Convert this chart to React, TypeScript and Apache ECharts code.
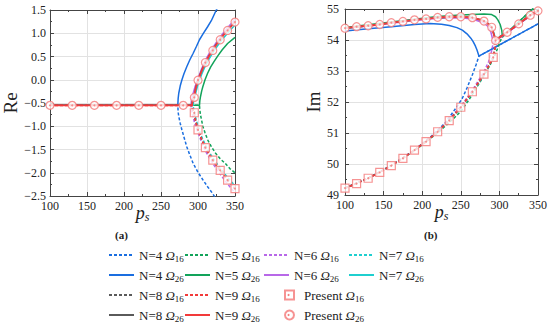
import React, { useEffect, useRef } from "react";
import * as echarts from "echarts";

const FONT = "Liberation Serif";

// ---------- Left panel (Re) ----------
const N4_RE_16 = [[100,-0.55],[272.7,-0.55],[273.2,-0.7],[274,-0.79],[276,-0.94],[278.3,-1.08],[281,-1.23],[284.8,-1.44],[289,-1.62],[293.5,-1.8],[300,-1.99],[306.5,-2.15],[313,-2.3],[319.5,-2.44],[323,-2.53]];
const N4_RE_26 = [[100,-0.55],[272.7,-0.55],[273.2,-0.4],[274,-0.29],[276,-0.13],[278.3,0.0],[281,0.13],[284.8,0.28],[289,0.43],[293.5,0.57],[298,0.72],[302,0.86],[307,0.99],[313,1.14],[318,1.27],[324.7,1.5],[327,1.56]];
const N5_RE_16 = [[100,-0.55],[302,-0.55],[302.5,-0.65],[303.4,-0.76],[305,-0.88],[306.5,-1.0],[309.5,-1.14],[313,-1.29],[318,-1.44],[323.8,-1.58],[330,-1.7],[336.8,-1.8],[343,-1.91],[350,-2.0]];
const N5_RE_26 = [[100,-0.55],[302,-0.55],[302.5,-0.45],[303.4,-0.36],[305,-0.24],[306.5,-0.15],[309.5,0.0],[313,0.14],[317,0.27],[321.6,0.39],[327,0.52],[332.5,0.64],[340,0.78],[350,0.91]];
const N6_RE_16 = [[100,-0.55],[290.5,-0.55],[291,-0.64],[292,-0.72],[293.5,-0.81],[296,-0.96],[300,-1.14],[305,-1.35],[310,-1.53],[315,-1.67],[320,-1.8],[325,-1.92],[330,-2.03],[335,-2.14],[340,-2.24],[345,-2.34],[350,-2.43]];
const N6_RE_26 = [[100,-0.55],[290.5,-0.55],[291,-0.46],[292,-0.38],[293.5,-0.29],[296,-0.15],[300,0.03],[305,0.24],[310,0.42],[315,0.56],[320,0.69],[325,0.81],[330,0.92],[335,1.02],[340,1.12],[345,1.21],[350,1.3]];
const N7_RE_16 = [[100,-0.55],[293.5,-0.55],[294,-0.63],[295,-0.69],[297,-0.82],[300,-1.0],[305,-1.22],[310,-1.4],[315,-1.55],[320,-1.68],[325,-1.79],[330,-1.9],[335,-2.0],[340,-2.1],[345,-2.19],[350,-2.28]];
const N7_RE_26 = [[100,-0.55],[293.5,-0.55],[294,-0.47],[295,-0.41],[297,-0.28],[300,-0.1],[305,0.12],[310,0.3],[315,0.45],[320,0.58],[325,0.7],[330,0.81],[335,0.91],[340,1.0],[345,1.09],[350,1.18]];
const N8_RE_16 = [[100,-0.55],[292,-0.55],[292.5,-0.63],[293.5,-0.68],[294.8,-0.73],[297,-0.91],[300,-1.08],[305,-1.29],[310,-1.47],[315,-1.61],[320,-1.74],[325,-1.85],[330,-1.96],[335,-2.06],[340,-2.17],[345,-2.26],[350,-2.35]];
const N8_RE_26 = [[100,-0.55],[292,-0.55],[292.5,-0.46],[293.5,-0.41],[294.8,-0.35],[297,-0.17],[300,0.0],[305,0.2],[310,0.38],[315,0.52],[320,0.65],[325,0.77],[330,0.88],[335,0.98],[340,1.07],[345,1.16],[350,1.25]];
const N9_RE_16 = [[100,-0.55],[292,-0.55],[292.5,-0.62],[293.5,-0.67],[294.8,-0.72],[297,-0.9],[300,-1.07],[305,-1.28],[310,-1.46],[315,-1.6],[320,-1.73],[325,-1.84],[330,-1.95],[335,-2.05],[340,-2.16],[345,-2.25],[350,-2.34]];
const N9_RE_26 = [[100,-0.55],[292,-0.55],[292.5,-0.47],[293.5,-0.42],[294.8,-0.36],[297,-0.18],[300,-0.01],[305,0.19],[310,0.37],[315,0.51],[320,0.64],[325,0.76],[330,0.87],[335,0.97],[340,1.06],[345,1.15],[350,1.24]];
const PRES_RE_16_X = [295, 300, 310, 320, 330, 340, 350];
const PRES_RE_16_Y = [-0.71, -1.08, -1.46, -1.73, -1.95, -2.16, -2.34];
const PRES_RE_26_X = [100, 130, 160, 190, 220, 250, 280, 295, 300, 310, 320, 330, 340, 350];
const PRES_RE_26_Y = [-0.55, -0.55, -0.55, -0.55, -0.55, -0.55, -0.55, -0.38, -0.01, 0.37, 0.63, 0.86, 1.06, 1.24];

// ---------- Right panel (Im) ----------
const N4_IM_16 = [[100,49.22],[130,49.54],[160,49.95],[190,50.45],[212,50.9],[230,51.33],[245,51.85],[252,52.12],[258,52.45],[265,52.88],[270,53.22],[273.5,53.48],[350,54.52]];
const N4_IM_26 = [[100,54.29],[130,54.36],[160,54.43],[190,54.5],[210,54.53],[225,54.51],[235,54.47],[245,54.4],[252,54.32],[258,54.2],[263,54.06],[266,53.95],[269,53.8],[271,53.68],[273.5,53.48],[350,54.52]];
const N5_IM_16 = [[100,49.22],[130,49.54],[160,49.95],[190,50.43],[220,51.0],[240,51.45],[250,51.7],[260,52.05],[270,52.45],[280,52.85],[288,53.2],[294.3,53.52],[298,53.75],[300.7,53.95],[304,54.1],[310,54.24],[320,54.47],[330,54.7],[340,54.93],[344,55.02]];
const N5_IM_26 = [[100,54.4],[130,54.49],[160,54.58],[190,54.67],[220,54.76],[250,54.81],[280,54.84],[290,54.82],[295,54.75],[298,54.65],[301,54.5],[303,54.32],[304,54.1],[310,54.24],[320,54.47],[330,54.7],[340,54.93],[344,55.02]];
const N6_IM_16 = [[100,49.22],[130,49.54],[160,49.95],[190,50.45],[220,51.05],[250,51.86],[265,52.38],[280,52.98],[286,53.3],[289,53.55],[291,53.78],[292,53.92],[300,54.06],[310,54.23],[325,54.5],[340,54.78],[350,54.92]];
const N6_IM_26 = [[100,54.37],[130,54.45],[160,54.54],[190,54.63],[220,54.7],[250,54.72],[265,54.68],[280,54.55],[286,54.42],[289,54.25],[291,54.05],[292,53.92],[300,54.06],[310,54.23],[325,54.5],[340,54.78],[350,54.92]];
const N7_IM_16 = [[100,49.22],[130,49.54],[160,49.95],[190,50.44],[220,51.03],[250,51.8],[265,52.3],[280,52.86],[288,53.25],[292.5,53.5],[294.5,53.75],[295.5,54.02],[310,54.27],[325,54.53],[340,54.8],[350,54.95]];
const N7_IM_26 = [[100,54.38],[130,54.46],[160,54.56],[190,54.65],[220,54.72],[250,54.76],[265,54.73],[280,54.63],[286,54.52],[290,54.42],[292.5,54.25],[294,54.12],[295.5,54.02],[310,54.27],[325,54.53],[340,54.8],[350,54.95]];
const N8_IM_16 = [[100,49.22],[130,49.54],[160,49.95],[190,50.45],[220,51.04],[250,51.83],[265,52.33],[280,52.9],[287,53.2],[292,53.45],[294,53.72],[295,54.0],[310,54.25],[325,54.52],[340,54.8],[350,54.94]];
const N8_IM_26 = [[100,54.38],[130,54.46],[160,54.56],[190,54.65],[220,54.72],[250,54.75],[265,54.72],[280,54.61],[285,54.53],[290,54.4],[293.5,54.13],[295,54.0],[310,54.25],[325,54.52],[340,54.8],[350,54.94]];
const N9_IM_16 = [[100,49.22],[115,49.37],[130,49.54],[145,49.73],[160,49.95],[175,50.18],[190,50.45],[205,50.72],[220,51.04],[235,51.4],[250,51.83],[265,52.33],[280,52.9],[287,53.2],[292,53.44],[294,53.7],[295,54.0],[310,54.25],[325,54.52],[340,54.8],[350,54.94]];
const N9_IM_26 = [[100,54.38],[115,54.43],[130,54.46],[145,54.5],[160,54.56],[175,54.6],[190,54.65],[205,54.68],[220,54.72],[235,54.75],[250,54.75],[265,54.72],[275,54.66],[280,54.61],[285,54.53],[288,54.45],[290,54.39],[292,54.25],[293.5,54.12],[295,54.0],[310,54.25],[325,54.52],[340,54.8],[350,54.94]];
const PRES_IM_16_X = [100, 115, 130, 145, 160, 175, 190, 205, 220, 235, 250, 265, 280, 292];
const PRES_IM_16_Y = [49.22, 49.37, 49.54, 49.73, 49.95, 50.18, 50.45, 50.72, 51.04, 51.4, 51.83, 52.33, 52.9, 53.44];
const PRES_IM_26_X = [100, 115, 130, 145, 160, 175, 190, 205, 220, 235, 250, 265, 280, 290, 295, 310, 325, 340, 350];
const PRES_IM_26_Y = [54.38, 54.43, 54.46, 54.5, 54.56, 54.6, 54.65, 54.68, 54.73, 54.75, 54.75, 54.72, 54.61, 54.41, 53.98, 54.25, 54.52, 54.8, 54.94];

const X_TICKS = { min: 100, max: 350, interval: 50 };
const RE_TICKS = { min: -2.5, max: 1.5, interval: 0.5 };
const IM_TICKS = { min: 49, max: 55, interval: 1 };

// legend layout: [name, column index, row index]
const LEGEND_COLS = [121, 197, 276, 361];
const LEGEND_ROWS = [255, 275, 295, 315];
const LEGEND_ITEMS: [string, number, number][] = [
  ["N=4 Ω16", 0, 0], ["N=5 Ω16", 1, 0], ["N=6 Ω16", 2, 0], ["N=7 Ω16", 3, 0],
  ["N=4 Ω26", 0, 1], ["N=5 Ω26", 1, 1], ["N=6 Ω26", 2, 1], ["N=7 Ω26", 3, 1],
  ["N=8 Ω16", 0, 2], ["N=9 Ω16", 1, 2], ["Present Ω16", 2, 2],
  ["N=8 Ω26", 0, 3], ["N=9 Ω26", 1, 3], ["Present Ω26", 2, 3],
];

const COLORS: Record<string, string> = {
  "4": "#1a6ee0",
  "5": "#12a35a",
  "6": "#b868e8",
  "7": "#1fcfcf",
  "8": "#5a5a5a",
  "9": "#f23a3a",
};
const MARK = "#f47878";

const zip = (xs: number[], ys: number[]) => xs.map((x, i) => [x, ys[i]]);

export default function App() {
  const ref = useRef<HTMLDivElement>(null);
  useEffect(() => {
    if (!ref.current) return;
    document.body.style.margin = "0";
    const chart = echarts.init(ref.current, null, { renderer: "svg" });

    const line = (n: string, om: string, data: number[][], g: number) => ({
      type: "line",
      name: `N=${n} Ω${om}`,
      data,
      xAxisIndex: g * 2,
      yAxisIndex: g * 2,
      showSymbol: false,
      symbol: "none",
      z: 2,
      lineStyle: {
        color: COLORS[n],
        width: n === "9" ? 1.8 : 1.5,
        type: om === "16" ? [3, 2] : "solid",
      },
      itemStyle: { color: COLORS[n] },
    });
    const scat = (om: string, data: number[][], g: number) => [
      {
        type: "scatter",
        name: `Present Ω${om}`,
        data,
        xAxisIndex: g * 2,
        yAxisIndex: g * 2,
        symbol: om === "16" ? "rect" : "circle",
        symbolSize: 8,
        z: 5,
        itemStyle: { color: "#fff", borderColor: MARK, borderWidth: 1.2 },
      },
      {
        type: "scatter",
        name: "dot",
        data,
        xAxisIndex: g * 2,
        yAxisIndex: g * 2,
        symbol: "circle",
        symbolSize: 2,
        silent: true,
        z: 6,
        itemStyle: { color: MARK },
      },
    ];

    const reData: Record<string, number[][][]> = {
      "4": [N4_RE_16, N4_RE_26],
      "5": [N5_RE_16, N5_RE_26],
      "6": [N6_RE_16, N6_RE_26],
      "7": [N7_RE_16, N7_RE_26],
      "8": [N8_RE_16, N8_RE_26],
      "9": [N9_RE_16, N9_RE_26],
    };
    const imData: Record<string, number[][][]> = {
      "4": [N4_IM_16, N4_IM_26],
      "5": [N5_IM_16, N5_IM_26],
      "6": [N6_IM_16, N6_IM_26],
      "7": [N7_IM_16, N7_IM_26],
      "8": [N8_IM_16, N8_IM_26],
      "9": [N9_IM_16, N9_IM_26],
    };
    const series: any[] = [];
    for (const n of ["4", "5", "6", "7", "8", "9"]) {
      series.push(line(n, "16", reData[n][0], 0));
      series.push(line(n, "26", reData[n][1], 0));
      series.push(line(n, "16", imData[n][0], 1));
      series.push(line(n, "26", imData[n][1], 1));
    }
    series.push(...scat("16", zip(PRES_RE_16_X, PRES_RE_16_Y), 0));
    series.push(...scat("26", zip(PRES_RE_26_X, PRES_RE_26_Y), 0));
    series.push(...scat("16", zip(PRES_IM_16_X, PRES_IM_16_Y), 1));
    series.push(...scat("26", zip(PRES_IM_26_X, PRES_IM_26_Y), 1));

    const axisLine = { show: true, onZero: false, lineStyle: { color: "#444", width: 1 } };
    const tick = { show: true, inside: true, length: 4, lineStyle: { color: "#444" } };
    const minor = { show: true, splitNumber: 2, length: 2, lineStyle: { color: "#444" } };
    const labelStyle = { fontFamily: FONT, fontSize: 12, color: "#222" };
    const psName = {
      name: "{p|p}{s|s}",
      nameLocation: "middle",
      nameGap: 7,
      nameMoveOverlap: false,
      nameTextStyle: {
        fontFamily: FONT,
        lineHeight: 20,
        rich: {
          p: { fontFamily: FONT, fontStyle: "italic", fontSize: 18, color: "#222", lineHeight: 20 },
          s: { fontFamily: FONT, fontStyle: "italic", fontSize: 12, color: "#222", lineHeight: 10, verticalAlign: "bottom" },
        },
      },
    };
    const xMain = (g: number) => ({
      type: "value",
      gridIndex: g,
      ...X_TICKS,
      position: "bottom",
      axisLine,
      axisTick: tick,
      minorTick: minor,
      axisLabel: { ...labelStyle, margin: 4 },
      splitLine: { show: true, lineStyle: { color: "#e2e2e2", width: 1 } },
      ...psName,
    });
    const xTop = (g: number) => ({
      type: "value",
      gridIndex: g,
      ...X_TICKS,
      position: "top",
      axisLine,
      axisTick: tick,
      minorTick: minor,
      axisLabel: { show: false },
      splitLine: { show: false },
    });
    const yMain = (g: number, ticks: any, name: string, gap: number, margin: number, fmt: (v: number) => string) => ({
      type: "value",
      gridIndex: g,
      ...ticks,
      position: "left",
      axisLine,
      axisTick: tick,
      minorTick: minor,
      axisLabel: { ...labelStyle, margin, formatter: fmt },
      splitLine: { show: true, lineStyle: { color: "#e2e2e2", width: 1 } },
      name,
      nameLocation: "middle",
      nameGap: gap,
      nameRotate: 90,
      nameTextStyle: { fontFamily: FONT, fontSize: 19, color: "#222" },
    });
    const yRight = (g: number, ticks: any) => ({
      type: "value",
      gridIndex: g,
      ...ticks,
      position: "right",
      axisLine,
      axisTick: tick,
      minorTick: minor,
      axisLabel: { show: false },
      splitLine: { show: false },
    });

    const legendText = {
      fontFamily: FONT,
      fontSize: 13,
      color: "#222",
      lineHeight: 16,
      rich: {
        o: { fontFamily: FONT, fontStyle: "italic", fontSize: 13, color: "#222", lineHeight: 16 },
        s: { fontFamily: FONT, fontSize: 9, color: "#222", lineHeight: 9, verticalAlign: "bottom" },
      },
    };
    const fmtLegend = (name: string) => {
      const m = name.match(/^(.*)Ω(\d+)$/);
      if (!m) return name;
      return `${m[1]}{o|Ω}{s|${m[2]}}`;
    };
    const legends = LEGEND_ITEMS.map(([name, c, r]) => {
      const present = name.startsWith("Present");
      return {
        left: LEGEND_COLS[c] + (present ? 8 : -13),
        top: LEGEND_ROWS[r] - 8,
        orient: "horizontal",
        padding: 0,
        itemWidth: present ? 9 : 25,
        itemHeight: present ? 9 : 10,
        itemGap: 0,
        data: [name],
        formatter: fmtLegend,
        textStyle: { ...legendText, padding: present ? [0, 0, 0, 5] : 0 },
        itemStyle: present ? {} : { opacity: 0 },
        selectedMode: false,
      };
    });

    const dots = LEGEND_ITEMS.filter(([n]) => n.startsWith("Present")).map(([, c, r]) => ({
      type: "circle",
      shape: { cx: LEGEND_COLS[c] + 12.5, cy: LEGEND_ROWS[r], r: 1 },
      style: { fill: MARK },
      z: 100,
    }));

    chart.setOption({
      animation: false,
      backgroundColor: "#fff",
      grid: [
        { left: 43, top: 10, width: 192, height: 186 },
        { left: 345, top: 9, width: 193, height: 186 },
      ],
      xAxis: [xMain(0), xTop(0), xMain(1), xTop(1)],
      yAxis: [
        yMain(0, RE_TICKS, "Re", 30, 4, (v: number) => v.toFixed(1).replace("-", "−")),
        yRight(0, RE_TICKS),
        yMain(1, IM_TICKS, "Im", 16, 6, (v: number) => String(v)),
        yRight(1, IM_TICKS),
      ],
      legend: legends,
      graphic: [
        { type: "text", left: 115, top: 229, style: { text: "(a)", font: `bold 11px ${FONT}`, fill: "#222" } },
        { type: "text", left: 424, top: 229, style: { text: "(b)", font: `bold 11px ${FONT}`, fill: "#222" } },
        ...dots,
      ],
      series,
    });
    return () => chart.dispose();
  }, []);
  return <div ref={ref} style={{ width: 550, height: 325 }} />;
}
